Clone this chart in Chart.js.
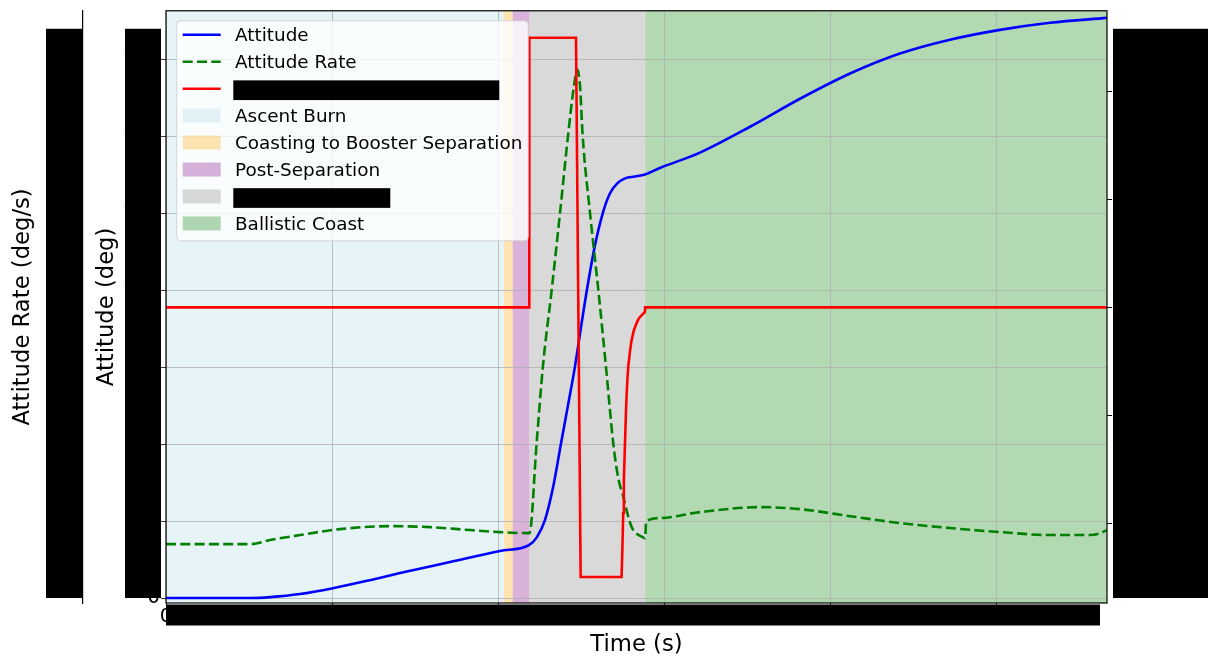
<!DOCTYPE html>
<html>
<head>
<meta charset="utf-8">
<script src="https://cdn.jsdelivr.net/npm/chart.js@4.4.1/dist/chart.umd.min.js"></script>
<style>
  html, body { margin: 0; padding: 0; background: #ffffff; }
  canvas { display: block; }
</style>
</head>
<body>
<canvas id="flight" width="1208" height="659"></canvas>
<script>
// Pitch attitude (deg) against flight time (s)
const attitudeTime = [0, 51.7, 62.6, 80.6, 100.5, 122.7, 140.8, 170.9, 201, 218.4,
  223.2, 228, 232.9, 237.7, 241.9, 246.1, 249.7, 253.3, 258.1, 262.9, 267.1, 271.4,
  276.2, 282.2, 288.2, 297.2, 321.3, 351.4, 381.5, 411.6, 441.6, 471.7, 501.8, 531.9, 566.2];
const attitudeDeg = [0, 0, 0.3, 1.3, 3.2, 5.8, 8.1, 11.7, 15.3, 17.2,
  19.8, 25.3, 36, 50.3, 62.7, 75.3, 88, 100.3, 114.6, 125.3, 131.5, 134.7,
  136.4, 137, 137.7, 139.8, 144.8, 153.2, 162.3, 170.5, 177, 181.5, 184.7, 187, 188.6];

// Attitude rate (deg/s)
const rateTime = [0, 51.7, 62.6, 80.6, 104.7, 134.8, 158.8, 182.9, 201, 218.7,
  223, 226.8, 232.1, 237.1, 241.9, 245.5, 247.5, 249.1, 250.7, 255.1, 260.1, 264.7,
  269.1, 271.3, 273.1, 274.7, 277.1, 280.1, 283.1, 287.1, 288.3, 288.9, 297.2, 321.3,
  357.4, 381.5, 411.6, 441.6, 471.7, 501.8, 531.9, 556, 562, 566.2];
const rateDegPerSec = [0, 0, 0.03, 0.067, 0.111, 0.133, 0.126, 0.104, 0.089, 0.081,
  0.748, 1.319, 1.889, 2.459, 3.03, 3.4, 3.52, 3.4, 3.03, 2.459, 1.889, 1.319,
  0.748, 0.548, 0.437, 0.375, 0.252, 0.128, 0.079, 0.05, 0.044, 0.166, 0.193, 0.237,
  0.274, 0.259, 0.207, 0.156, 0.119, 0.089, 0.067, 0.067, 0.081, 0.104];

// Control command (right axis)
const commandTime = [0, 218.6, 218.6, 246.7, 249.5, 274.1, 274.6, 275.1, 275.5, 276.1,
  276.7, 277.1, 277.6, 278.1, 279.1, 280.1, 281.5, 283.1, 284.5, 286.1, 288.1, 288.3, 566.2];
const commandValue = [0, 0, 2.5, 2.5, -2.5, -2.5, -2.25, -1.907, -1.602, -1.296,
  -1.0, -0.833, -0.676, -0.556, -0.417, -0.306, -0.213, -0.148, -0.102, -0.074, -0.044, 0, 0];

// Flight phases
const phaseNames = ['Ascent Burn', 'Coasting to Booster Separation', 'Post-Separation', 'Pitch Maneuver', 'Ballistic Coast'];
const phaseStart = [0, 203.4, 208.6, 218.6, 288.5];
const phaseEnd = [203.4, 208.6, 218.6, 288.5, 566.2];

// Tick values
const timeTicks = [0, 100, 200, 300, 400, 500];
const attitudeTicks = [0, 25, 50, 75, 100, 125, 150, 175];
const rateTicks = [0, 0.5, 1, 1.5, 2, 2.5, 3, 3.5];
const commandTicks = [-2, -1, 0, 1, 2];

const phaseColors = ['rgba(173,216,230,0.3)', 'rgba(255,165,0,0.3)', 'rgba(128,0,128,0.3)',
  'rgba(128,128,128,0.3)', 'rgba(0,128,0,0.3)'];
const FONT = 'DejaVu Sans';

const pairs = (xs, ys) => xs.map((x, i) => ({ x: x, y: ys[i] }));
const setTicks = list => scale => { scale.ticks = list.map(v => ({ value: v })); };

// shaded phase bands behind the grid
const phaseBands = {
  id: 'phaseBands',
  beforeDraw(chart) {
    const { ctx, chartArea: a, scales } = chart;
    ctx.save();
    ctx.fillStyle = '#ffffff';
    ctx.fillRect(0, 0, chart.width, chart.height);
    phaseNames.forEach((name, i) => {
      const x0 = scales.x.getPixelForValue(phaseStart[i]);
      const x1 = scales.x.getPixelForValue(phaseEnd[i]);
      ctx.fillStyle = phaseColors[i];
      ctx.fillRect(x0, a.top, x1 - x0, a.bottom - a.top);
    });
    ctx.restore();
  }
};

// axes frame
const frame = {
  id: 'frame',
  afterDatasetsDraw(chart) {
    const { ctx, chartArea: a } = chart;
    ctx.save();
    ctx.strokeStyle = '#000';
    ctx.lineWidth = 1.2;
    ctx.strokeRect(a.left, a.top, a.right - a.left, a.bottom - a.top);
    ctx.restore();
  }
};

// legend box in the upper left of the plot
const legendBox = {
  id: 'legendBox',
  afterDatasetsDraw(chart) {
    const { ctx, chartArea: a } = chart;
    const ds = chart.data.datasets;
    const items = [
      { kind: 'line', label: ds[0].label, color: ds[0].borderColor, dash: [] },
      { kind: 'line', label: ds[1].label, color: ds[1].borderColor, dash: ds[1].borderDash },
      { kind: 'line', label: ds[2].label, color: ds[2].borderColor, dash: [], hidden: 266 }
    ];
    phaseNames.forEach((n, i) => items.push({ kind: 'patch', label: n, color: phaseColors[i], hidden: i === 3 ? 157 : 0 }));

    const x0 = a.left + 10.7, y0 = a.top + 10, w = 351.6, h = 220, r = 4;
    ctx.save();
    ctx.beginPath();
    ctx.moveTo(x0 + r, y0);
    ctx.arcTo(x0 + w, y0, x0 + w, y0 + h, r);
    ctx.arcTo(x0 + w, y0 + h, x0, y0 + h, r);
    ctx.arcTo(x0, y0 + h, x0, y0, r);
    ctx.arcTo(x0, y0, x0 + w, y0, r);
    ctx.closePath();
    ctx.fillStyle = 'rgba(255,255,255,0.8)';
    ctx.fill();
    ctx.strokeStyle = 'rgba(204,204,204,0.8)';
    ctx.lineWidth = 1;
    ctx.stroke();

    ctx.font = '18.4px "' + FONT + '"';
    ctx.textBaseline = 'alphabetic';
    ctx.textAlign = 'left';
    items.forEach((it, i) => {
      const cy = y0 + 14 + i * 26.95;
      const hx = x0 + 6;
      if (it.kind === 'line') {
        ctx.strokeStyle = it.color;
        ctx.lineWidth = 2.6;
        ctx.setLineDash(it.dash || []);
        ctx.beginPath();
        ctx.moveTo(hx, cy);
        ctx.lineTo(hx + 38, cy);
        ctx.stroke();
        ctx.setLineDash([]);
      } else {
        ctx.fillStyle = it.color;
        ctx.fillRect(hx, cy - 7, 38, 14);
      }
      ctx.fillStyle = '#000';
      ctx.fillText(it.label, x0 + 58.3, cy + 6.7);
      if (it.hidden) {
        ctx.fillRect(x0 + 56.6, cy - 8.3, it.hidden, 19.7);
      }
    });
    ctx.restore();
  }
};

// redaction bars over tick labels
const redaction = {
  id: 'redaction',
  afterDraw(chart) {
    const { ctx, chartArea: a, scales } = chart;
    const top = a.top + 18, bottom = a.bottom - 5;
    ctx.save();
    ctx.fillStyle = '#000';
    const r = scales.yRate.right;
    ctx.fillRect(r - 37, top, 36.6, bottom - top);
    ctx.fillRect(a.left - 41, top, 36, bottom - top);
    ctx.fillRect(a.right + 6, top, chart.width - a.right - 6, bottom - top);
    ctx.fillRect(a.left, a.bottom + 1.5, a.right - 7 - a.left, 21);
    ctx.restore();
  }
};

const tickFont = { family: FONT, size: 19.5, lineHeight: 0.9 };
const titleFont = { family: FONT, size: 22.7 };

new Chart(document.getElementById('flight'), {
  type: 'line',
  data: {
    datasets: [
      { label: 'Attitude', data: pairs(attitudeTime, attitudeDeg), yAxisID: 'y',
        borderColor: '#0000ff', borderWidth: 2.6, pointRadius: 0, fill: false, order: 3,
        cubicInterpolationMode: 'monotone' },
      { label: 'Attitude Rate', data: pairs(rateTime, rateDegPerSec), yAxisID: 'yRate',
        borderColor: '#008000', borderWidth: 2.6, borderDash: [10, 4.3], pointRadius: 0, fill: false, order: 2,
        cubicInterpolationMode: 'monotone' },
      { label: 'Pitch Command', data: pairs(commandTime, commandValue), yAxisID: 'yCmd',
        borderColor: '#ff0000', borderWidth: 2.6, pointRadius: 0, fill: false, order: 1 }
    ]
  },
  options: {
    responsive: false,
    devicePixelRatio: 1,
    animation: false,
    layout: { padding: { top: 10, left: 0, right: 0, bottom: 0 } },
    plugins: { legend: { display: false }, tooltip: { enabled: false } },
    scales: {
      x: {
        type: 'linear', position: 'bottom', min: 0, max: 566.2,
        afterBuildTicks: setTicks(timeTicks),
        afterFit: s => { s.height = 56; },
        grid: { color: '#b0b0b0', lineWidth: 0.8, tickLength: 5, tickColor: '#000' },
        border: { display: false },
        ticks: { font: tickFont, color: '#000', padding: 0.5, maxRotation: 0, autoSkip: false },
        title: { display: true, text: 'Time (s)', font: titleFont, color: '#000', padding: { top: 0, bottom: 0.3 } }
      },
      y: {
        position: 'left', weight: 0, min: -1.62, max: 190.9,
        afterBuildTicks: setTicks(attitudeTicks),
        afterFit: s => { s.width = 83; },
        grid: { color: '#b0b0b0', lineWidth: 0.8, tickLength: 5, tickColor: '#000' },
        border: { display: false },
        ticks: { font: tickFont, color: '#000', padding: 1 },
        title: { display: true, text: 'Attitude (deg)', font: titleFont, color: '#000', padding: { top: 10.7, bottom: 0 } }
      },
      yRate: {
        position: 'left', weight: 1, min: -0.437, max: 3.956,
        afterBuildTicks: setTicks(rateTicks),
        afterFit: s => { s.width = 83; },
        grid: { drawOnChartArea: false, tickLength: 5, tickColor: '#000' },
        border: { display: true, color: '#000', width: 1.2 },
        ticks: { font: tickFont, color: '#000', padding: 1 },
        title: { display: true, text: 'Attitude Rate (deg/s)', font: titleFont, color: '#000', padding: { top: 9.2, bottom: 0 } }
      },
      yCmd: {
        position: 'right', min: -2.741, max: 2.75,
        afterBuildTicks: setTicks(commandTicks),
        afterFit: s => { s.width = 101; },
        grid: { drawOnChartArea: false, tickLength: 5, tickColor: '#000' },
        border: { display: false },
        ticks: { font: tickFont, color: '#000', padding: 2 }
      }
    }
  },
  plugins: [phaseBands, frame, legendBox, redaction]
});
</script>
</body>
</html>
